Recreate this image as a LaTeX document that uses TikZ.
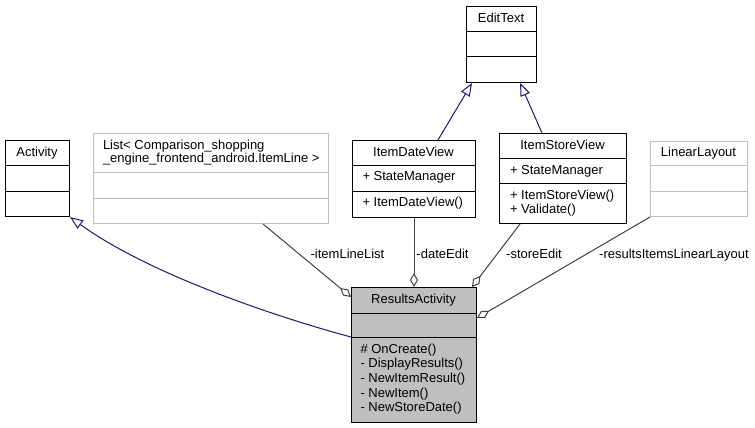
\documentclass[tikz,border=0pt]{standalone}
\usepackage{fontspec}
\usepackage{xcolor}
\usepackage{tikz}
\usetikzlibrary{arrows.meta,calc}

\newfontfamily\doxyfont{Liberation Sans}
\definecolor{lightframe}{HTML}{BFBFBF}
\definecolor{aggrgray}{HTML}{404040}
\definecolor{inheritblue}{HTML}{191970}
\definecolor{resultgray}{HTML}{BFBFBF}

\begin{document}
\begin{tikzpicture}[x=1pt, y=-1pt, line width=1pt,
    umlbox/.style={draw=black, fill=white, anchor=north west, inner sep=0pt},
    extbox/.style={umlbox, draw=lightframe},
    ctitle/.style={font=\doxyfont\fontsize{13}{14}\selectfont, anchor=base, inner sep=0pt},
    cmember/.style={font=\doxyfont\fontsize{13}{14}\selectfont, anchor=base west, inner sep=0pt},
    rolelabel/.style={font=\doxyfont\fontsize{13}{14}\selectfont, anchor=base, inner sep=0pt},
    inherit/.style={draw=inheritblue, -{Triangle[open, length=13pt, width=10pt]}},
    aggr/.style={draw=aggrgray, {Diamond[open, length=14pt, width=8pt]}-}]
    \useasboundingbox (0,0) rectangle (755,428);

    % base classes
    \node[umlbox, minimum width=64pt, minimum height=76pt] (activity) at (5,140) {};
    \draw (activity.west |- 0,165) -- (activity.east |- 0,165);
    \draw (activity.west |- 0,191) -- (activity.east |- 0,191);
    \node[ctitle] (activitytitle) at (37,156.3) {Activity};

    \node[extbox, minimum width=235pt, minimum height=90pt] (list) at (93,133) {};
    \draw[lightframe] (list.west |- 0,172) -- (list.east |- 0,172);
    \draw[lightframe] (list.west |- 0,198) -- (list.east |- 0,198);
    \node[cmember] (listtitlea) at (102.5,149.3) {List< Comparison\_shopping};
    \node[cmember] (listtitleb) at (102.5,162.7) {\_engine\_frontend\_android.ItemLine >};

    \node[umlbox, minimum width=70pt, minimum height=76pt] (edittext) at (466,6) {};
    \draw (edittext.west |- 0,32) -- (edittext.east |- 0,32);
    \draw (edittext.west |- 0,57) -- (edittext.east |- 0,57);
    \node[ctitle] (edittexttitle) at (501,22.3) {EditText};

    \node[umlbox, minimum width=123pt, minimum height=77pt] (datev) at (352,140) {};
    \draw (datev.west |- 0,165) -- (datev.east |- 0,165);
    \draw (datev.west |- 0,191) -- (datev.east |- 0,191);
    \node[ctitle] (datevtitle) at (413.5,156) {ItemDateView};
    \node[cmember] (datevattr) at (362,180.5) {+ StateManager};
    \node[cmember] (datevop) at (362,206.5) {+ ItemDateView()};

    \node[umlbox, minimum width=127pt, minimum height=90pt] (storev) at (499,133) {};
    \draw (storev.west |- 0,158) -- (storev.east |- 0,158);
    \draw (storev.west |- 0,183) -- (storev.east |- 0,183);
    \node[ctitle] (storevtitle) at (562.5,149) {ItemStoreView};
    \node[cmember] (storevattr) at (509.5,174) {+ StateManager};
    \node[cmember] (storevopa) at (509.5,199) {+ ItemStoreView()};
    \node[cmember] (storevopb) at (509.5,213.5) {+ Validate()};

    \node[extbox, minimum width=97pt, minimum height=75pt] (linear) at (650,141) {};
    \draw[lightframe] (linear.west |- 0,165) -- (linear.east |- 0,165);
    \draw[lightframe] (linear.west |- 0,191) -- (linear.east |- 0,191);
    \node[ctitle] (lineartitle) at (698.5,156.3) {LinearLayout};

    % the documented class
    \node[umlbox, fill=resultgray, minimum width=125pt, minimum height=135pt] (results) at (351,287) {};
    \draw (results.west |- 0,313) -- (results.east |- 0,313);
    \draw (results.west |- 0,337) -- (results.east |- 0,337);
    \node[ctitle] (resultstitle) at (413.5,303.3) {ResultsActivity};
    \node[cmember] (resultsopa) at (360,353.3) {\# OnCreate()};
    \node[cmember] (resultsopb) at (360,367.9) {- DisplayResults()};
    \node[cmember] (resultsopc) at (360,382.5) {- NewItemResult()};
    \node[cmember] (resultsopd) at (360,397.1) {- NewItem()};
    \node[cmember] (resultsope) at (360,411.7) {- NewStoreDate()};

    % inheritance
    \draw[inherit] (results.west |- 0,337) .. controls (280,318) and (150,275) .. (activity.south east);
    \draw[inherit] (438,0 |- datev.north) -- (472,0 |- edittext.south);
    \draw[inherit] (542,0 |- storev.north) -- (520,0 |- edittext.south);

    % aggregation
    \draw[aggr] (results.west |- 0,297) -- (263,0 |- list.south);
    \draw[aggr] (results.north) -- (datev.south);
    \draw[aggr] (472,0 |- results.north) -- (520,0 |- storev.south);
    \draw[aggr] (results.east |- 0,318) -- (linear.south west);
    \node[rolelabel] (itemlinelabel) at (347.5,258.5) {-itemLineList};
    \node[rolelabel] (dateeditlabel) at (442.5,258.5) {-dateEdit};
    \node[rolelabel] (storeeditlabel) at (534,258.5) {-storeEdit};
    \node[rolelabel] (layoutlabel) at (674,258.5) {-resultsItemsLinearLayout};
\end{tikzpicture}
\end{document}
